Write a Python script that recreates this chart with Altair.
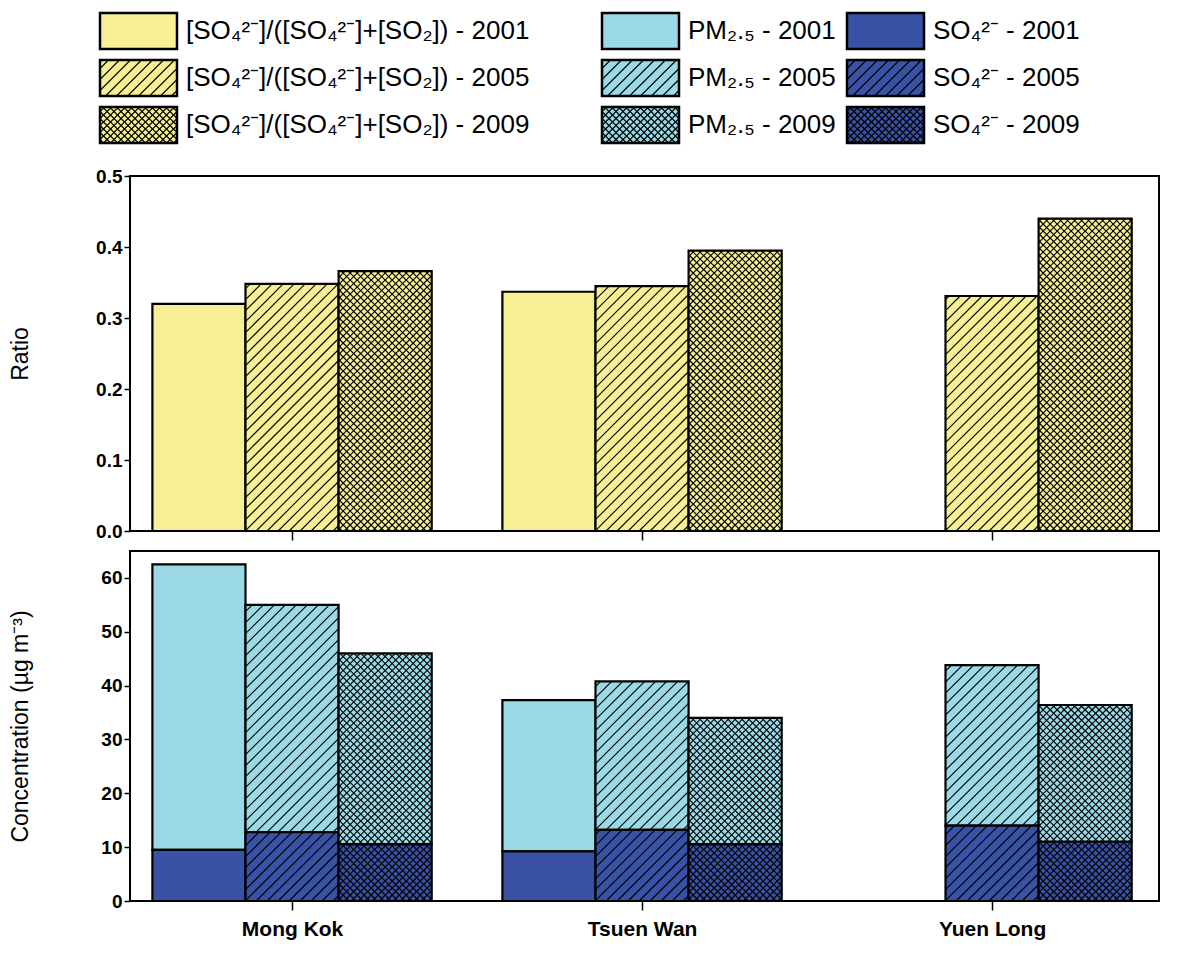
import altair as alt
import pandas as pd

# values
sites = ["Mong Kok", "Tsuen Wan", "Yuen Long"]
years = ["2001", "2005", "2009"]
ratio = {"2001": [0.320, 0.337, None], "2005": [0.348, 0.345, 0.331], "2009": [0.366, 0.395, 0.440]}
pm25 = {"2001": [62.5, 37.3, None], "2005": [55.0, 40.8, 43.8], "2009": [46.0, 34.0, 36.4]}
so4 = {"2001": [9.5, 9.2, None], "2005": [12.8, 13.2, 14.0], "2009": [10.5, 10.5, 11.0]}

YELLOW, LBLUE, DBLUE = "#f6ef93", "#9bd9e6", "#3a52a5"
offs = {"2001": -0.266, "2005": 0.0, "2009": 0.266}
HALF = 0.133
XPX = 350.0  # px per x unit
XDOM = [0.537, 3.477]
W = 1029
FONT = "Liberation Sans"
VIEW = alt.ViewConfig(stroke="black", strokeWidth=2)


def hatch(x0, x1, y0, y1, sp, d):
    segs = []
    if d == "/":
        c = y0 - x1 + sp / 2
        while c < y1 - x0:
            a, b = max(x0, y0 - c), min(x1, y1 - c)
            if b > a:
                segs.append((a, b, a + c, b + c))
            c += sp
    else:
        c = x0 + y0 + sp / 2
        while c < x1 + y1:
            a, b = max(x0, c - y1), min(x1, c - y0)
            if b > a:
                segs.append((a, b, c - a, c - b))
            c += sp
    return segs


def pattern_segs(yr, x0, x1, y0, y1, sx, sy):
    # rectangle in data units -> hatch segments in data units
    px = [x0 * sx, x1 * sx, y0 * sy, y1 * sy]
    out = []
    if yr == "2005":
        out = hatch(*px, 11, "/")
    elif yr == "2009":
        out = hatch(*px, 7, "/") + hatch(*px, 7, "\\")
    return [dict(a=a / sx, b=b / sx, c=c / sy, d=d / sy) for a, b, c, d in out]


def panel(rects, segs, ydom, h, ytitle, yvals, fmt, show_labels):
    xs = alt.Scale(domain=XDOM, nice=False, zero=False)
    ys = alt.Scale(domain=ydom, nice=False, zero=False)
    xax = alt.Axis(values=[1, 2, 3], grid=False, title=None, tickSize=9, tickColor="black", tickWidth=1.5,
                   domainColor="black", labels=show_labels,
                   labelExpr="datum.value == 1 ? 'Mong Kok' : datum.value == 2 ? 'Tsuen Wan' : 'Yuen Long'",
                   labelFont=FONT, labelFontSize=21, labelFontWeight="bold", labelColor="black", labelPadding=8)
    yax = alt.Axis(values=yvals, format=fmt, grid=False, title=ytitle, tickColor="black", tickWidth=1.5,
                   domainColor="black", labelOverlap=False, tickSize=6,
                   labelFont=FONT, labelFontSize=19, labelFontWeight="bold", labelColor="black",
                   titleFont=FONT, titleFontSize=23, titleFontWeight="normal", titleColor="black",
                   minExtent=92, maxExtent=92, titlePadding=6)
    bars = alt.Chart(pd.DataFrame(rects)).mark_rect(stroke="black", strokeWidth=2.2).encode(
        x=alt.X("a:Q", scale=xs, axis=xax), x2="b:Q",
        y=alt.Y("c:Q", scale=ys, axis=yax), y2="d:Q",
        fill=alt.Color("col:N", scale=None))
    lines = alt.Chart(pd.DataFrame(segs)).mark_rule(color="black", strokeWidth=1.1).encode(
        x=alt.X("a:Q", scale=xs), x2="b:Q", y=alt.Y("c:Q", scale=ys), y2="d:Q")
    return alt.layer(bars, lines).properties(width=W, height=h, view=VIEW)


ysy_top = 355 / 0.5
top_rects, top_segs = [], []
for yr in years:
    for i, v in enumerate(ratio[yr]):
        if v is None:
            continue
        xc = i + 1 + offs[yr]
        x0, x1 = xc - HALF, xc + HALF
        top_rects.append(dict(a=x0, b=x1, c=0, d=v, col=YELLOW))
        top_segs += pattern_segs(yr, x0, x1, 0, v, XPX, ysy_top)

ysy_bot = 350 / 65
bot_rects, bot_segs = [], []
for yr in years:
    for i, (p, s) in enumerate(zip(pm25[yr], so4[yr])):
        if p is None:
            continue
        xc = i + 1 + offs[yr]
        x0, x1 = xc - HALF, xc + HALF
        bot_rects.append(dict(a=x0, b=x1, c=s, d=p, col=LBLUE))
        bot_rects.append(dict(a=x0, b=x1, c=0, d=s, col=DBLUE))
        bot_segs += pattern_segs(yr, x0, x1, s, p, XPX, ysy_bot)
        bot_segs += pattern_segs(yr, x0, x1, 0, s, XPX, ysy_bot)

top = panel(top_rects, top_segs, [0, 0.5], 355, "Ratio",
            [0, 0.1, 0.2, 0.3, 0.4, 0.5], ".1f", False)
bottom = panel(bot_rects, bot_segs, [0, 65], 350, "Concentration (µg m⁻³)",
               list(range(0, 70, 5)), "d", True)

# legend as its own chart, in page pixel coordinates (x from plot left)
LH = 150
leg_cols = [(113, YELLOW, "[SO₄²⁻]/([SO₄²⁻]+[SO₂])"), (615, LBLUE, "PM₂.₅"), (860, DBLUE, "SO₄²⁻")]
leg_rows = [5, 52, 99]
leg_rects, leg_segs, leg_text = [], [], []
for cx, col, lab in leg_cols:
    for ry, yr in zip(leg_rows, years):
        x0, x1 = cx, cx + 77
        y0, y1 = LH - ry - 36, LH - ry
        leg_rects.append(dict(a=x0, b=x1, c=y0, d=y1, col=col))
        leg_segs += pattern_segs(yr, x0, x1, y0, y1, 1, 1)
        leg_text.append(dict(a=x1 + 9, c=(y0 + y1) / 2, t=f"{lab} - {yr}"))
lxs = alt.Scale(domain=[143, 143 + W], nice=False, zero=False)
lys = alt.Scale(domain=[0, LH], nice=False, zero=False)
lrect = alt.Chart(pd.DataFrame(leg_rects)).mark_rect(stroke="black", strokeWidth=2.5).encode(
    x=alt.X("a:Q", scale=lxs, axis=None), x2="b:Q",
    y=alt.Y("c:Q", scale=lys, axis=None), y2="d:Q", fill=alt.Color("col:N", scale=None))
lseg = alt.Chart(pd.DataFrame(leg_segs)).mark_rule(color="black", strokeWidth=1.1).encode(
    x=alt.X("a:Q", scale=lxs), x2="b:Q", y=alt.Y("c:Q", scale=lys), y2="d:Q")
ltxt = alt.Chart(pd.DataFrame(leg_text)).mark_text(align="left", baseline="middle", font=FONT,
                                                   fontSize=26, color="black").encode(
    x=alt.X("a:Q", scale=lxs), y=alt.Y("c:Q", scale=lys), text="t:N")
legend = alt.layer(lrect, lseg, ltxt).properties(width=W, height=LH,
                                                 view=alt.ViewConfig(stroke=None))

chart = alt.vconcat(legend, top, bottom, spacing=8).configure(background="white", padding=0)
chart.save("out.html", embed_options={"renderer": "svg", "actions": False})
